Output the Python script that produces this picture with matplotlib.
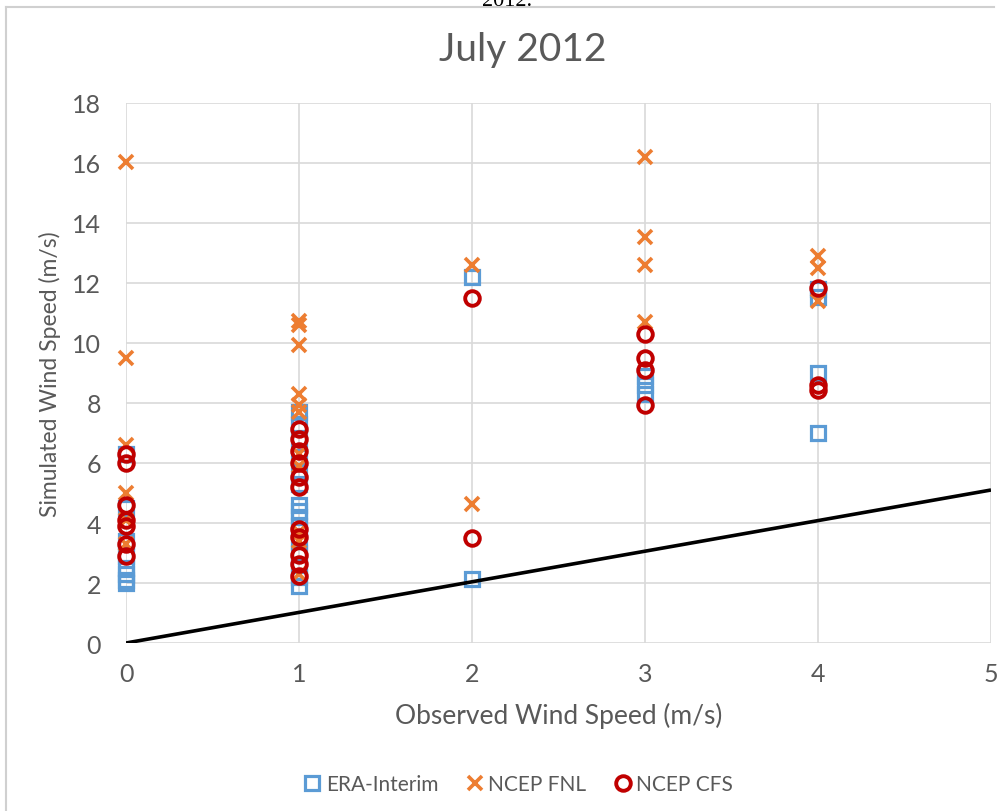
import matplotlib
matplotlib.use("Agg")
import matplotlib.pyplot as plt
from matplotlib.lines import Line2D

# Observed (x) and simulated (y) wind speed, July 2012
era_x = [0, 0, 0, 0, 0, 0, 0, 0,
         1, 1, 1, 1, 1, 1, 1, 1, 1, 1, 1, 1, 1, 1, 1,
         2, 2,
         3, 3, 3,
         4, 4, 4, 4]
era_y = [2.0, 2.1, 2.3, 2.5, 2.9, 3.4, 4.5, 6.3,
         7.7, 7.3, 6.8, 6.2, 5.7, 5.3, 4.6, 4.4, 4.2, 3.9, 3.4, 3.0, 2.6, 2.2, 1.9,
         12.2, 2.15,
         8.9, 8.6, 8.3,
         11.8, 11.55, 9.0, 7.0]

fnl_x = [0, 0, 0, 0, 0, 0,
         1, 1, 1, 1, 1, 1, 1, 1, 1, 1, 1,
         2, 2,
         3, 3, 3, 3,
         4, 4, 4]
fnl_y = [16.05, 9.5, 6.6, 5.0, 4.1, 3.3,
         10.75, 10.6, 9.95, 8.3, 7.95, 7.7, 6.3, 5.9, 3.7, 3.4, 2.3,
         12.6, 4.65,
         16.2, 13.55, 12.6, 10.7,
         12.9, 12.5, 11.4]

cfs_x = [0, 0, 0, 0, 0, 0, 0,
         1, 1, 1, 1, 1, 1, 1, 1, 1, 1, 1,
         2, 2,
         3, 3, 3, 3,
         4, 4, 4]
cfs_y = [6.3, 6.0, 4.6, 4.1, 3.9, 3.3, 2.9,
         7.15, 6.8, 6.4, 6.0, 5.55, 5.2, 3.8, 3.55, 2.95, 2.65, 2.25,
         11.5, 3.5,
         10.3, 9.5, 9.1, 7.95,
         11.85, 8.6, 8.45]

# Reference line
line_x = [0, 5]
line_y = [0, 5.1]

x_ticks = [0, 1, 2, 3, 4, 5]
y_ticks = [0, 2, 4, 6, 8, 10, 12, 14, 16, 18]

plt.rcParams['font.family'] = ['Lato', 'DejaVu Sans']
text_color = '#595959'
grid_color = '#d9d9d9'
c_era = '#5B9BD5'
c_fnl = '#ED7D31'
c_cfs = '#C00000'

fig = plt.figure(figsize=(10.08, 8.12), dpi=100)
ax = fig.add_axes([126 / 1008, 1 - 644 / 812, (991 - 126) / 1008, (644 - 104) / 812])

ax.plot(era_x, era_y, linestyle='none', marker='s', ms=10, mfc='none',
        mec=c_era, mew=2.3, label='ERA-Interim', zorder=3, clip_on=False)
ax.plot(fnl_x, fnl_y, linestyle='none', marker='x', ms=9.5,
        mec=c_fnl, mew=2.6, label='NCEP FNL', zorder=4, clip_on=False)
ax.plot(cfs_x, cfs_y, linestyle='none', marker='o', ms=10.5, mfc='none',
        mec=c_cfs, mew=2.8, label='NCEP CFS', zorder=5, clip_on=False)
ax.plot(line_x, line_y, color='black', lw=2.6, zorder=6, solid_capstyle='butt')

ax.set_xlim(0, 5)
ax.set_ylim(0, 18)
ax.set_xticks(x_ticks)
ax.set_yticks(y_ticks)
ax.grid(True, color=grid_color, lw=1.2)
ax.set_axisbelow(True)
for s in ax.spines.values():
    s.set_visible(False)
ax.tick_params(length=0, labelsize=18, colors=text_color)
ax.tick_params(axis='y', pad=18)
ax.tick_params(axis='x', pad=14)

ax.set_xlabel('Observed Wind Speed (m/s)', fontsize=19, color=text_color, labelpad=12)
ax.set_ylabel('Simulated Wind Speed (m/s)', fontsize=16.5, color=text_color, labelpad=8)

fig.text(0.519, 1 - 50 / 812, 'July 2012', ha='center', va='center',
         fontsize=28, color=text_color)

handles = [
    Line2D([], [], linestyle='none', marker='s', ms=10, mfc='none', mec=c_era, mew=2.3),
    Line2D([], [], linestyle='none', marker='x', ms=9.5, mec=c_fnl, mew=2.6),
    Line2D([], [], linestyle='none', marker='o', ms=10.5, mfc='none', mec=c_cfs, mew=2.8),
]
leg = fig.legend(handles, ['ERA-Interim', 'NCEP FNL', 'NCEP CFS'], loc='center',
                 bbox_to_anchor=(0.513, 1 - 785 / 812), ncol=3, frameon=False,
                 fontsize=15, handletextpad=0.1, columnspacing=1.2, handlelength=1.1)
for t in leg.get_texts():
    t.set_color(text_color)

# Chart frame (top and left edges) and caption cut at top
fig.add_artist(Line2D([6 / 1008, 994 / 1008], [1 - 8 / 812, 1 - 8 / 812],
                      color='#d0d0d0', lw=1.5))
fig.add_artist(Line2D([6 / 1008, 6 / 1008], [1 - 8 / 812, 0],
                      color='#d0d0d0', lw=1.5))
fig.text(0.503, 1 - 6 / 812, '2012.', ha='center', va='baseline',
         fontsize=16, family='Liberation Serif', color='black')

fig.savefig('out.png', dpi=100, facecolor='white')
